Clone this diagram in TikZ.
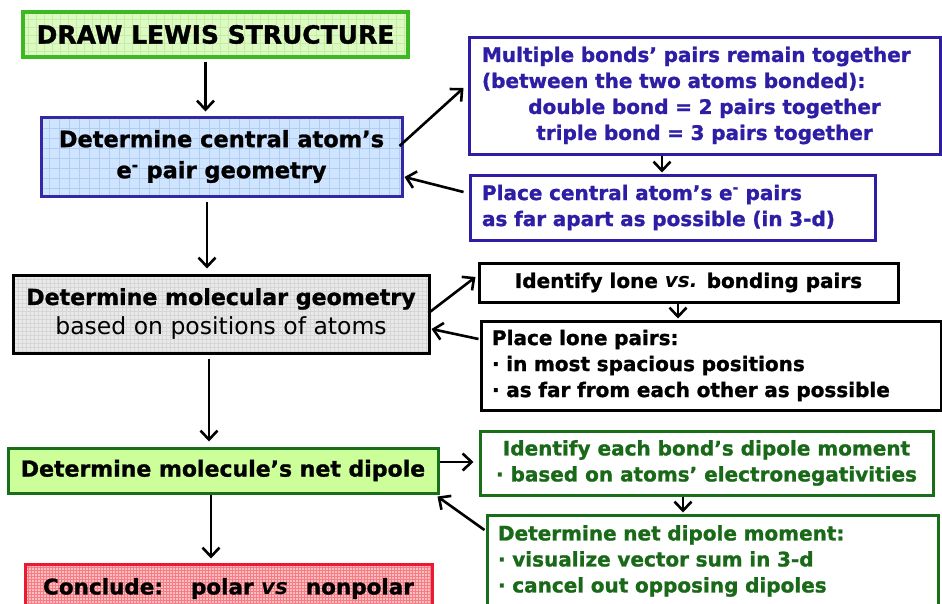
\documentclass[tikz,border=0pt]{standalone}
\usepackage{fontspec}
\setmainfont{DejaVu Sans}[BoldFeatures={FakeBold=1.2}]
\usepackage{xcolor}
\usetikzlibrary{arrows.meta}

\definecolor{lewisfill}{RGB}{222,250,196}
\definecolor{lewisgrid}{RGB}{196,238,160}
\definecolor{lewisline}{RGB}{60,185,35}
\definecolor{bluefill}{RGB}{206,228,255}
\definecolor{bluegrid}{RGB}{176,204,240}
\definecolor{blueline}{RGB}{52,40,165}
\definecolor{grayfill}{RGB}{233,233,233}
\definecolor{graygrid}{RGB}{214,214,214}
\definecolor{greenfill}{RGB}{204,255,153}
\definecolor{greenline}{RGB}{25,110,25}
\definecolor{redfill}{RGB}{255,190,190}
\definecolor{redgrid}{RGB}{245,125,135}
\definecolor{redline}{RGB}{235,25,50}
\definecolor{purpleink}{RGB}{45,30,165}
\definecolor{greenink}{RGB}{25,105,25}

\newcommand{\stepfont}{\bfseries\fontsize{22.5}{31}\selectfont}
\newcommand{\notefont}{\bfseries\fontsize{20}{26}\selectfont}

\begin{document}
\begin{tikzpicture}[x=1pt, y=-1pt, >={Straight Barb[length=9pt,width=17pt]},
    box/.style={draw, rectangle, inner sep=0pt, line width=3pt},
    gridfill/.style n args={3}{fill=#1, path picture={\draw[#2, line width=0.6pt, step=#3]
        (path picture bounding box.south west) grid (path picture bounding box.north east);}},
    note/.style={box, line width=3pt, fill=white, font=\notefont},
    flow/.style={->, line width=2.6pt}]
    \useasboundingbox (0,0) rectangle (942,603);
    \clip (0,0) rectangle (942,603);

    % Main steps (left column)
    \node[box, draw=lewisline, line width=3.2pt, gridfill={lewisfill}{lewisgrid}{8pt},
          minimum width=385pt, minimum height=45pt, font=\bfseries\fontsize{25}{30}\selectfont]
          (lewis) at (215.5,34.5) {DRAW LEWIS STRUCTURE};
    \node[box, draw=blueline, gridfill={bluefill}{bluegrid}{10pt}, minimum width=361pt,
          minimum height=79pt, font=\stepfont, align=center]
          (central) at (221.5,156.5) {Determine central atom's\\e\textsuperscript{-} pair geometry};
    \node[box, draw=black, gridfill={grayfill}{graygrid}{4pt}, minimum width=416pt,
          minimum height=78pt, font=\bfseries\fontsize{22.1}{30}\selectfont, align=center]
          (mol) at (221,314) {Determine molecular geometry\\{\mdseries\fontsize{23.5}{30}\selectfont based on positions of atoms}};
    \node[box, draw=greenline, fill=greenfill, minimum width=430pt, minimum height=45pt,
          font=\bfseries\fontsize{22}{30}\selectfont]
          (dipole) at (223,470.5) {Determine molecule's net dipole};
    \node[box, draw=redline, gridfill={redfill}{redgrid}{3pt}, minimum width=407pt,
          minimum height=49pt, font=\bfseries\fontsize{21.5}{30}\selectfont]
          (conclude) at (228.5,588.5) {Conclude:\hspace{28pt}polar \textit{vs}\hspace{18pt}nonpolar};

    % Notes (right column)
    \node[note, draw=purpleink, text=purpleink, minimum width=471pt, minimum height=117pt,
          text width=445pt, align=left] (multi) at (704.5,95.5)
          {Multiple bonds' pairs remain together\\(between the two atoms bonded):\\
           \makebox[\hsize]{double bond = 2 pairs together}\\
           \makebox[\hsize]{triple bond = 3 pairs together}};
    \node[note, draw=purpleink, text=purpleink, minimum width=405pt, minimum height=65pt,
          text width=381pt, align=left] (placeC) at (672.5,207.5)
          {Place central atom's e\textsuperscript{-} pairs\\as far apart as possible (in 3-d)};
    \node[note, minimum width=419pt, minimum height=39pt] (lone) at (688.5,282.5)
          {Identify lone \textit{vs.} bonding pairs};
    \node[note, minimum width=460pt, minimum height=89pt, text width=438pt, align=left]
          (placeL) at (711,365.5)
          {Place lone pairs:\\· in most spacious positions\\· as far from each other as possible};
    \node[note, draw=greenline, text=greenink, minimum width=453pt, minimum height=64pt,
          align=center] (bond) at (706.5,463)
          {Identify each bond's dipole moment\\· based on atoms' electronegativities};
    \node[note, draw=greenline, text=greenink, minimum width=451pt, minimum height=92pt,
          text width=429pt, align=left] (net) at (712.5,561)
          {Determine net dipole moment:\\· visualize vector sum in 3-d\\· cancel out opposing dipoles};

    % Arrows down the left column
    \draw[flow, shorten <=3pt, shorten >=4pt] ([xshift=-10pt]lewis.south) -- ([xshift=-16pt]central.north);
    \draw[flow, shorten <=4pt, shorten >=5pt] ([xshift=-14.5pt]central.south) -- ([xshift=-14pt]mol.north);
    \draw[flow, shorten <=4pt, shorten >=5pt] ([xshift=-12pt]mol.south) -- ([xshift=-14pt]dipole.north);
    \draw[flow, shorten >=4pt] ([xshift=-12pt]dipole.south) -- ([xshift=-17.5pt]conclude.north);

    % Arrows to and from the notes
    \draw[flow] ([xshift=-4pt,yshift=10.5pt]central.east) -- ([xshift=-4pt,yshift=7.5pt]multi.west);
    \draw[flow, shorten >=1pt] ([xshift=-42.5pt]multi.south) -- ([xshift=-10.5pt]placeC.north);
    \draw[flow] ([xshift=-5pt,yshift=15.5pt]placeC.west) -- ([xshift=1pt,yshift=-20.5pt]central.east);
    \draw[flow] ([xshift=-2pt,yshift=1pt]mol.east) -- ([xshift=-2pt,yshift=5.5pt]lone.west);
    \draw[flow, shorten >=1pt] ([xshift=-10.5pt]lone.south) -- ([xshift=-33pt]placeL.north);
    \draw[flow] ([xshift=-1pt,yshift=26.5pt]placeL.west) -- ([xshift=1pt,yshift=-15pt]mol.east);
    \draw[flow] ([yshift=8.5pt]dipole.east) -- ([xshift=-5pt,yshift=1pt]bond.west);
    \draw[flow, shorten >=1pt] ([xshift=-23.5pt]bond.south) -- ([xshift=-29.5pt]net.north);
    \draw[flow] ([xshift=-1pt,yshift=31pt]net.west) -- ([xshift=-2pt,yshift=-2pt]dipole.south east);
\end{tikzpicture}
\end{document}
